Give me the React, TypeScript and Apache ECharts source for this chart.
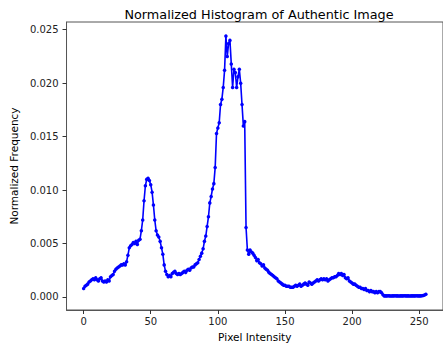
import React, { useEffect, useRef } from "react";
import * as echarts from "echarts";

const titleText = "Normalized Histogram of Authentic Image";
const xName = "Pixel Intensity";
const yName = "Normalized Frequency";
const xTicks = [0, 50, 100, 150, 200, 250];
const yTicks = [0, 0.005, 0.01, 0.015, 0.02, 0.025];

const freq0to63 = [
  0.0008, 0.0010, 0.0011, 0.0012, 0.0014, 0.0015, 0.0016, 0.0017, 0.0016, 0.0018,
  0.0016, 0.0015, 0.0017, 0.0018, 0.0015, 0.0014, 0.0015, 0.0014, 0.0016, 0.0015,
  0.0019, 0.0020, 0.0021, 0.0024, 0.0026, 0.0027, 0.0028, 0.0029, 0.0030, 0.0030,
  0.0031, 0.0030, 0.0033, 0.0039, 0.0046, 0.0048, 0.0049, 0.0051, 0.0050, 0.0052,
  0.0049, 0.0053, 0.0054, 0.0062, 0.0072, 0.0090, 0.0104, 0.0110, 0.0111, 0.0109,
  0.0105, 0.0098, 0.0086, 0.0072, 0.0062, 0.0058, 0.0056, 0.0052, 0.0046, 0.0040,
  0.0030, 0.0024, 0.0021, 0.0019,
];
const freq64to127 = [
  0.0020, 0.0019, 0.0022, 0.0023, 0.0024, 0.0022, 0.0021, 0.0022, 0.0021, 0.0022,
  0.0023, 0.0024, 0.0023, 0.0025, 0.0026, 0.0025, 0.0027, 0.0028, 0.0028, 0.0030,
  0.0031, 0.0032, 0.0035, 0.0038, 0.0041, 0.0045, 0.0052, 0.0057, 0.0066, 0.0075,
  0.0088, 0.0094, 0.0101, 0.0106, 0.0121, 0.0153, 0.0158, 0.0163, 0.0180, 0.0185,
  0.0196, 0.0212, 0.0244, 0.0225, 0.0237, 0.0240, 0.0218, 0.0196, 0.0213, 0.0210,
  0.0196, 0.0206, 0.0213, 0.0200, 0.0180, 0.0160, 0.0164, 0.0065, 0.0044, 0.0040,
  0.0044, 0.0042, 0.0041, 0.0039,
];
const freq128to191 = [
  0.0037, 0.0034, 0.0035, 0.0032, 0.0031, 0.0029, 0.0030, 0.0027, 0.0026, 0.0025,
  0.0023, 0.0022, 0.0021, 0.0020, 0.0019, 0.0018, 0.0017, 0.0015, 0.0014, 0.0013,
  0.0012, 0.0011, 0.0011, 0.0010, 0.0010, 0.0010, 0.0009, 0.0009, 0.0009, 0.0010,
  0.0011, 0.0010, 0.0011, 0.0012, 0.0010, 0.0011, 0.0012, 0.0013, 0.0012, 0.0011,
  0.0014, 0.0013, 0.0012, 0.0013, 0.0014, 0.0015, 0.0016, 0.0015, 0.0016, 0.0017,
  0.0016, 0.0017, 0.0016, 0.0017, 0.0015, 0.0016, 0.0017, 0.0018, 0.0018, 0.0019,
  0.0019, 0.0020, 0.0022, 0.0021,
];
const freq192to255 = [
  0.0022, 0.0020, 0.0021, 0.0018, 0.0017, 0.0018, 0.0015, 0.0014, 0.0013, 0.0012,
  0.0012, 0.0011, 0.0010, 0.0009, 0.0009, 0.0008, 0.0008, 0.0007, 0.0008, 0.0006,
  0.0006, 0.0005, 0.0006, 0.0005, 0.0005, 0.0004, 0.0005, 0.0004, 0.0005, 0.0005,
  0.0004, 0.0002, 0.0001, 0.0001, 0.0001, 0.00012, 0.0001, 0.00008, 0.0001, 0.0001,
  0.00012, 0.0001, 0.0001, 0.00008, 0.0001, 0.0001, 0.0001, 0.00012, 0.0001, 0.0001,
  0.0001, 0.00008, 0.0001, 0.0001, 0.0001, 0.0001, 0.00012, 0.0001, 0.0001, 0.0001,
  0.00012, 0.00014, 0.00018, 0.00025,
];

const frequencies = [...freq0to63, ...freq64to127, ...freq128to191, ...freq192to255];
const intensities = frequencies.map((_, i) => i);

const FONT = "DejaVu Sans";

export default function App() {
  const ref = useRef<HTMLDivElement>(null);
  useEffect(() => {
    document.body.style.margin = "0";
    const chart = echarts.init(ref.current!, null, { renderer: "svg" });
    chart.setOption({
      animation: false,
      backgroundColor: "#fff",
      title: {
        text: titleText,
        left: 254,
        top: 3,
        textAlign: "center",
        textStyle: { fontFamily: FONT, fontSize: 12.8, fontWeight: "normal", color: "#000" },
      },
      grid: {
        left: 62,
        top: 22,
        width: 384,
        height: 288,
        show: true,
        borderColor: "#555",
        borderWidth: 1,
        backgroundColor: "transparent",
      },
      xAxis: {
        type: "value",
        min: -12.75,
        max: 267.75,
        name: xName,
        nameLocation: "middle",
        nameGap: 21,
        nameTextStyle: { fontFamily: FONT, fontSize: 10.5, color: "#000" },
        axisLine: { show: true, onZero: false, lineStyle: { color: "#555", width: 1 } },
        axisTick: {
          show: true,
          inside: false,
          length: 4,
          customValues: xTicks,
          lineStyle: { color: "#333" },
        },
        axisLabel: {
          customValues: xTicks,
          margin: 6,
          fontFamily: FONT,
          fontSize: 10,
          color: "#222",
        },
        splitLine: { show: false },
      },
      yAxis: {
        type: "value",
        min: -0.00122,
        max: 0.02572,
        name: yName,
        nameLocation: "middle",
        nameGap: 45,
        nameRotate: 90,
        nameTextStyle: { fontFamily: FONT, fontSize: 10.5, color: "#000" },
        axisLine: { show: true, onZero: false, lineStyle: { color: "#555", width: 1 } },
        axisTick: {
          show: true,
          inside: false,
          length: 4,
          customValues: yTicks,
          lineStyle: { color: "#333" },
        },
        axisLabel: {
          customValues: yTicks,
          margin: 8,
          fontFamily: FONT,
          fontSize: 10,
          color: "#222",
          formatter: (v: number) => v.toFixed(3),
        },
        splitLine: { show: false },
      },
      series: [
        {
          type: "line",
          data: intensities.map((x, i) => [x, frequencies[i]]),
          showSymbol: true,
          symbol: "circle",
          symbolSize: 3.5,
          itemStyle: { color: "#0000ff" },
          lineStyle: { color: "#0000ff", width: 1.6 },
          clip: false,
        },
      ],
    });
    return () => chart.dispose();
  }, []);
  return <div ref={ref} style={{ width: 443, height: 347 }} />;
}
